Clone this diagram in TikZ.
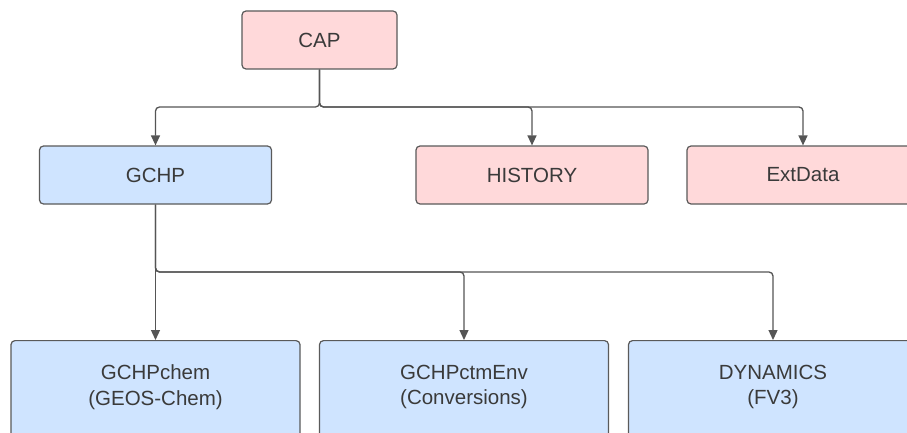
\documentclass[tikz,border=0pt]{standalone}
\usepackage{fontspec}
\setmainfont{Liberation Sans}
\usetikzlibrary{arrows.meta}
\definecolor{pinkfill}{RGB}{255,217,218}
\definecolor{bluefill}{RGB}{207,228,255}
\definecolor{edgegray}{RGB}{90,90,90}
\definecolor{txtgray}{RGB}{58,58,58}
\definecolor{linegray}{RGB}{85,85,85}
\tikzset{
  box/.style={draw=edgegray, line width=1.2pt, rounded corners=4pt, inner sep=0pt,
    text=txtgray, align=center, font=\fontsize{20.5}{25.5}\selectfont},
  pinkbox/.style={box, fill=pinkfill},
  bluebox/.style={box, fill=bluefill},
  boxtext/.style={text=txtgray, align=center, font=\fontsize{20.5}{25.5}\selectfont},
  conn/.style={draw=linegray, line width=1.3pt, rounded corners=4pt,
    -{Triangle[length=10pt,width=9pt]}}
}
\begin{document}
\begin{tikzpicture}[x=1pt,y=-1pt]
\useasboundingbox (0,0) rectangle (907,433);
\clip (0,0) rectangle (907,433);
\fill[white] (0,0) rectangle (907,433);
% top level
\node[pinkbox, minimum width=155pt, minimum height=58pt] (cap) at (319.5,40) {CAP};
\node[bluebox, minimum width=232pt, minimum height=58pt] (gchp) at (155.5,175) {GCHP};
\node[pinkbox, minimum width=232pt, minimum height=58pt] (hist) at (532,175) {HISTORY};
\node[pinkbox, minimum width=232pt, minimum height=58pt] (ext) at (803,175) {ExtData};
% bottom row (boxes extend beyond the cropped picture)
\node[bluebox, minimum width=289pt, minimum height=100pt, anchor=north] (chem) at (155.5,340) {};
\node[bluebox, minimum width=289pt, minimum height=100pt, anchor=north] (ctm) at (464,340) {};
\node[bluebox, minimum width=289pt, minimum height=100pt, anchor=north] (dyn) at (773,340) {};
\node[boxtext] (chemt) at (155.5,387) {GCHPchem\\(GEOS-Chem)};
\node[boxtext] (ctmt) at (464,387) {GCHPctmEnv\\(Conversions)};
\node[boxtext] (dynt) at (773,387) {DYNAMICS\\(FV3)};
% junctions
\coordinate (j1) at (319.5,107);
\coordinate (j2) at (155.5,272);
% connectors
\draw[conn] (cap.south) -- (j1) -| (gchp.north);
\draw[conn] (cap.south) -- (j1) -| (hist.north);
\draw[conn] (cap.south) -- (j1) -| (ext.north);
\draw[conn] (gchp.south) -- (chem.north);
\draw[conn] (gchp.south) -- (j2) -| (ctm.north);
\draw[conn] (gchp.south) -- (j2) -| (dyn.north);
\end{tikzpicture}
\end{document}
